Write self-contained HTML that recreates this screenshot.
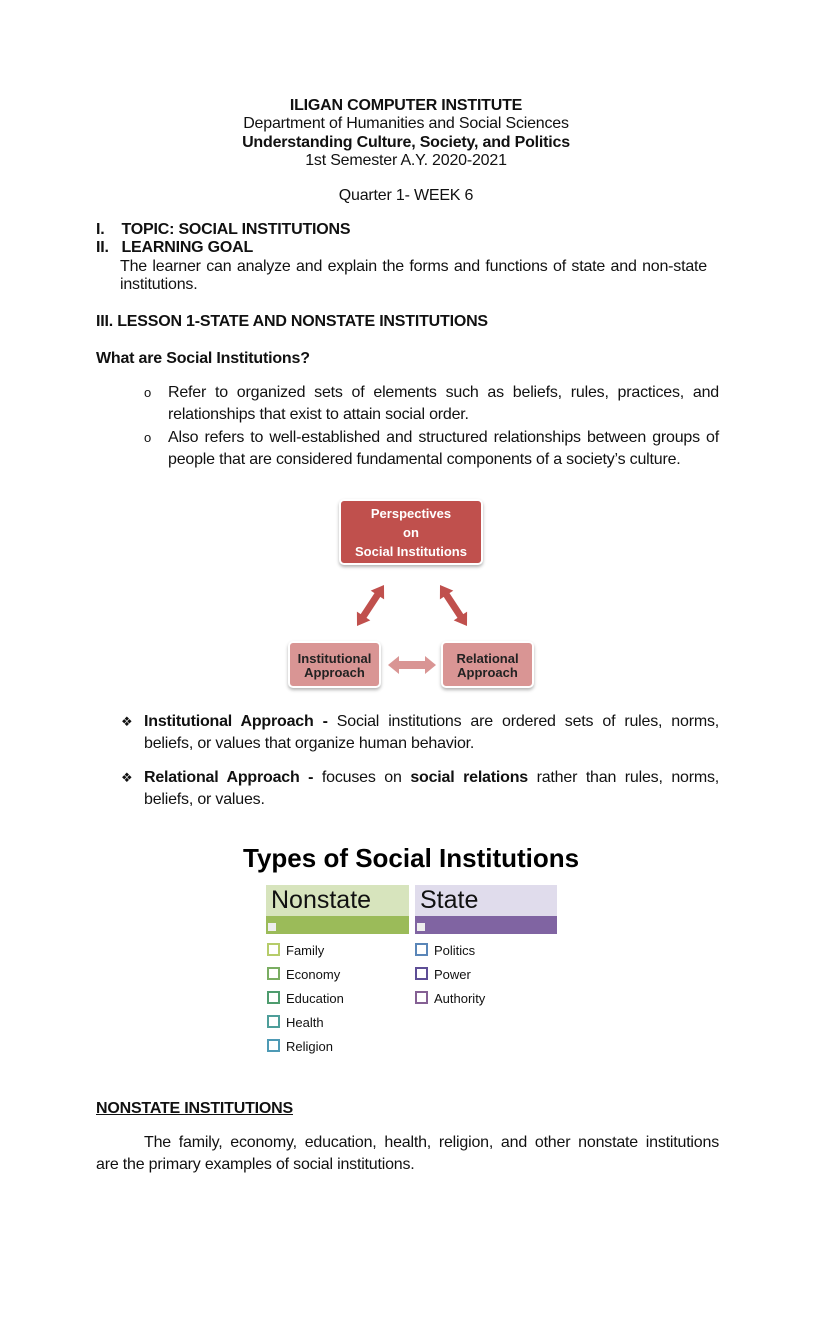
<!DOCTYPE html>
<html><head><meta charset="utf-8"><style>
body{margin:0;width:816px;height:1344px;background:#fff;position:relative;font-family:"Liberation Sans",Arial,sans-serif;color:#111;overflow:hidden}
.l{position:absolute;font-size:16px;line-height:18px;white-space:nowrap;letter-spacing:-0.2px}
.c{text-align:center;left:0;width:812px}
.j{text-align:justify;text-align-last:justify;white-space:normal}
b{font-weight:bold}
.box{position:absolute;border-radius:5px;color:#fff;font-weight:bold;text-align:center;box-shadow:0 2px 3px rgba(0,0,0,.3);border:2px solid #fff}
.it{position:absolute;font-size:13px;line-height:16px}
.sq{display:inline-block;width:9px;height:9px;border:2px solid;margin-right:6px;vertical-align:-1px}
</style></head><body>
<div class="l c" style="top:97px"><b>ILIGAN COMPUTER INSTITUTE</b></div>
<div class="l c" style="top:115px">Department of Humanities and Social Sciences</div>
<div class="l c" style="top:134px"><b>Understanding Culture, Society, and Politics</b></div>
<div class="l c" style="top:152px">1st Semester A.Y. 2020-2021</div>
<div class="l c" style="top:187px">Quarter 1- WEEK 6</div>

<div class="l" style="top:221px;left:96px"><b>I.&nbsp;&nbsp;&nbsp; TOPIC: SOCIAL INSTITUTIONS</b></div>
<div class="l" style="top:239px;left:96px"><b>II.&nbsp;&nbsp; LEARNING GOAL</b></div>
<div class="l j" style="top:258px;left:120px;width:587px">The learner can analyze and explain the forms and functions of state and non-state</div>
<div class="l" style="top:276px;left:120px">institutions.</div>
<div class="l" style="top:313px;left:96px"><b>III. LESSON 1-STATE AND NONSTATE INSTITUTIONS</b></div>
<div class="l" style="top:350px;left:96px"><b>What are Social Institutions?</b></div>

<div class="l" style="top:384px;left:144px;font-size:13px">o</div>
<div class="l j" style="top:384px;left:168px;width:551px">Refer to organized sets of elements such as beliefs, rules, practices, and</div>
<div class="l" style="top:406px;left:168px">relationships that exist to attain social order.</div>
<div class="l" style="top:429px;left:144px;font-size:13px">o</div>
<div class="l j" style="top:429px;left:168px;width:551px">Also refers to well-established and structured relationships between groups of</div>
<div class="l" style="top:451px;left:168px">people that are considered fundamental components of a society’s culture.</div>

<div class="box" style="left:339px;top:499px;width:144px;height:66px;background:#c0504d;font-size:13px;line-height:19px;padding-top:3px;box-sizing:border-box">Perspectives<br>on<br>Social Institutions</div>
<div class="box" style="left:288px;top:641px;width:93px;height:47px;background:#d99594;color:#222;font-size:13px;line-height:14px;padding-top:9px;box-sizing:border-box">Institutional<br>Approach</div>
<div class="box" style="left:441px;top:641px;width:93px;height:47px;background:#d99594;color:#222;font-size:13px;line-height:14px;padding-top:9px;box-sizing:border-box">Relational<br>Approach</div>
<svg style="position:absolute;left:0;top:0" width="816" height="1344">
<g fill="#c0504d">
<polygon points="384,585 384.1,599.4 380.3,596.9 366.5,617.9 370.3,620.4 357,626 356.9,611.6 360.7,614.1 374.5,593.1 370.7,590.6"/>
<polygon points="440,585 439.9,599.4 443.7,596.9 457.5,617.9 453.7,620.4 467,626 467.1,611.6 463.3,614.1 449.5,593.1 453.3,590.6"/>
</g>
<polygon fill="#d99594" points="388,665 399,656 399,661 425,661 425,656 436,665 425,674 425,669 399,669 399,674"/>
</svg>

<div class="l" style="top:713px;left:121px;font-size:13px">❖</div>
<div class="l j" style="top:713px;left:144px;width:575px"><b>Institutional Approach -</b> Social institutions are ordered sets of rules, norms,</div>
<div class="l" style="top:735px;left:144px">beliefs, or values that organize human behavior.</div>
<div class="l" style="top:769px;left:121px;font-size:13px">❖</div>
<div class="l j" style="top:769px;left:144px;width:575px"><b>Relational Approach -</b> focuses on <b>social relations</b> rather than rules, norms,</div>
<div class="l" style="top:791px;left:144px">beliefs, or values.</div>

<div style="position:absolute;left:243px;top:842px;font-size:26px;font-weight:bold;line-height:32px;color:#000">Types of Social Institutions</div>
<div style="position:absolute;left:266px;top:885px;width:143px;height:31px;background:#d7e4bd;font-size:25px;line-height:31px;padding-left:5px;box-sizing:border-box">Nonstate</div>
<div style="position:absolute;left:266px;top:916px;width:143px;height:18px;background:#9bbb59"></div>
<div style="position:absolute;left:268px;top:923px;width:8px;height:8px;background:#eee"></div>
<div style="position:absolute;left:415px;top:885px;width:142px;height:31px;background:#e0dcec;font-size:25px;line-height:31px;padding-left:5px;box-sizing:border-box">State</div>
<div style="position:absolute;left:415px;top:916px;width:142px;height:18px;background:#8064a2"></div>
<div style="position:absolute;left:417px;top:923px;width:8px;height:8px;background:#eee"></div>

<div class="it" style="left:267px;top:943px"><span class="sq" style="border-color:#b6cc6a"></span>Family</div>
<div class="it" style="left:267px;top:967px"><span class="sq" style="border-color:#7aad62"></span>Economy</div>
<div class="it" style="left:267px;top:991px"><span class="sq" style="border-color:#4e9c6e"></span>Education</div>
<div class="it" style="left:267px;top:1015px"><span class="sq" style="border-color:#4e9e9a"></span>Health</div>
<div class="it" style="left:267px;top:1039px"><span class="sq" style="border-color:#4e9ab5"></span>Religion</div>
<div class="it" style="left:415px;top:943px"><span class="sq" style="border-color:#5a86b8"></span>Politics</div>
<div class="it" style="left:415px;top:967px"><span class="sq" style="border-color:#5e4e96"></span>Power</div>
<div class="it" style="left:415px;top:991px"><span class="sq" style="border-color:#856094"></span>Authority</div>

<div class="l" style="top:1100px;left:96px;text-decoration:underline"><b>NONSTATE INSTITUTIONS</b></div>
<div class="l j" style="top:1134px;left:144px;width:575px">The family, economy, education, health, religion, and other nonstate institutions</div>
<div class="l" style="top:1156px;left:96px">are the primary examples of social institutions.</div>
</body></html>
